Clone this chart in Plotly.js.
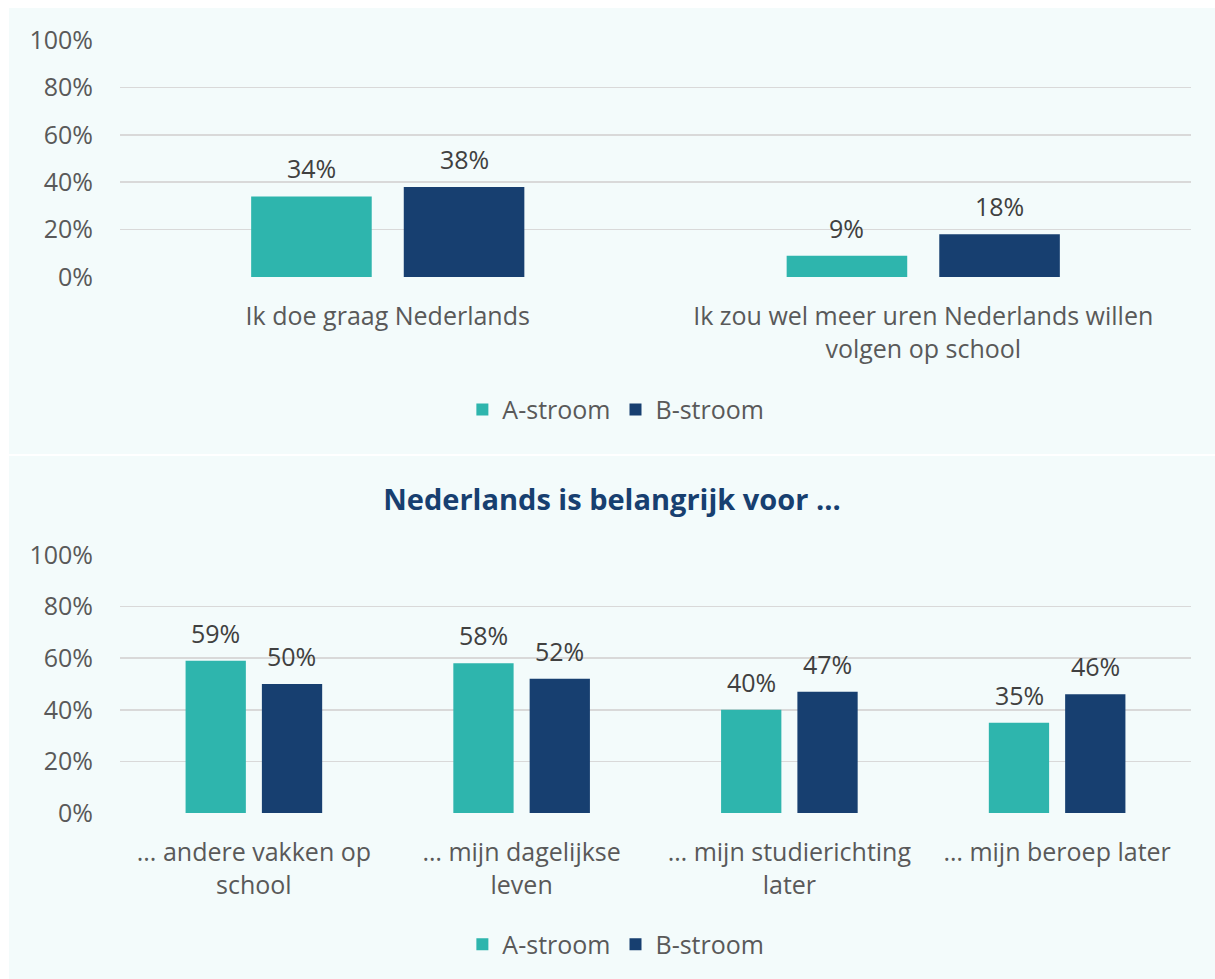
<!DOCTYPE html>
<html>
<head>
<meta charset="utf-8">
<script src="https://cdn.plot.ly/plotly-3.0.1.min.js"></script>
<style>
  html, body { margin: 0; padding: 0; background: #ffffff; width: 1215px; height: 979px; overflow: hidden; }
  #c1 { position: absolute; left: 9px; top: 8px; width: 1206px; height: 446px; }
  #c2 { position: absolute; left: 9px; top: 456px; width: 1206px; height: 523px; }
</style>
</head>
<body>
<div id="c1"></div>
<div id="c2"></div>
<script>
// ---- Data ----
const seriesNames = ["A-stroom", "B-stroom"];
const topCategories = ["Ik doe graag Nederlands", "Ik zou wel meer uren Nederlands willen<br>volgen op school"];
const topA = [34, 9];
const topB = [38, 18];
const bottomTitle = "Nederlands is belangrijk voor ...";
const bottomCategories = ["... andere vakken op<br>school", "… mijn dagelijkse<br>leven", "… mijn studierichting<br>later", "… mijn beroep later"];
const bottomA = [59, 58, 40, 35];
const bottomB = [50, 52, 47, 46];
const yTicks = [0, 20, 40, 60, 80, 100];

// ---- Style ----
const colA = "#2EB5AD";
const colB = "#173F70";
const bg = "#F3FBFB";
const font = "Open Sans, Noto Sans, sans-serif";
const tickCol = "#595959";
const labelCol = "#404040";
const fs = 25;

function makeChart(div, cats, a, b, opts) {
  const traces = [
    { type: "bar", name: seriesNames[0], x: cats, y: a, marker: { color: colA }, hoverinfo: "none" },
    { type: "bar", name: seriesNames[1], x: cats, y: b, marker: { color: colB }, hoverinfo: "none" }
  ];
  const anns = [];
  [a, b].forEach((vals, s) => {
    vals.forEach((v, i) => {
      anns.push({
        x: cats[i], y: v, xref: "x", yref: "y",
        xshift: (s === 0 ? -1 : 1) * opts.shift, yshift: 28,
        yanchor: "middle", xanchor: "center",
        text: v + "%", showarrow: false,
        font: { family: font, size: fs, color: labelCol }
      });
    });
  });
  const layout = {
    width: 1206, height: opts.height,
    paper_bgcolor: bg, plot_bgcolor: bg,
    margin: { l: 111, r: 24, t: opts.t, b: opts.b },
    barmode: "group", bargap: 0.43, bargroupgap: 0.21,
    font: { family: font, size: fs, color: tickCol },
    xaxis: { type: "category", showgrid: false, zeroline: false, showline: false, ticks: "",
      ticklabelstandoff: 22, tickfont: { family: font, size: fs, color: tickCol } },
    yaxis: { range: [0, 100], tickvals: yTicks, ticktext: yTicks.map(v => v + "%"),
      showgrid: true, gridcolor: "#D9D9D9", gridwidth: 1.5, zeroline: false, showline: false,
      ticks: "", ticklabelstandoff: 26, tickfont: { family: font, size: fs, color: tickCol }, fixedrange: true },
    showlegend: true,
    legend: { orientation: "h", x: opts.legX, xanchor: "center", y: opts.legY, yanchor: "middle",
      font: { family: font, size: fs, color: tickCol }, itemwidth: 30, traceorder: "normal" },
    annotations: anns
  };
  if (opts.title) {
    layout.title = { text: "<b>" + opts.title + "</b>", x: 0.5, xref: "container", xanchor: "center",
      y: opts.titleY, yref: "container", yanchor: "middle",
      font: { family: font, size: 29, color: colB } };
  }
  Plotly.newPlot(div, traces, layout, { staticPlot: true, displayModeBar: false });
}

makeChart("c1", topCategories, topA, topB, { height: 446, t: 31.5, b: 177, shift: 76.5, legX: 0.463, legY: -0.56 });
makeChart("c2", bottomCategories, bottomA, bottomB, { height: 523, t: 99, b: 166, shift: 38, legX: 0.463, legY: -0.51,
  title: bottomTitle, titleY: 1 - 44 / 523 });
</script>
</body>
</html>
